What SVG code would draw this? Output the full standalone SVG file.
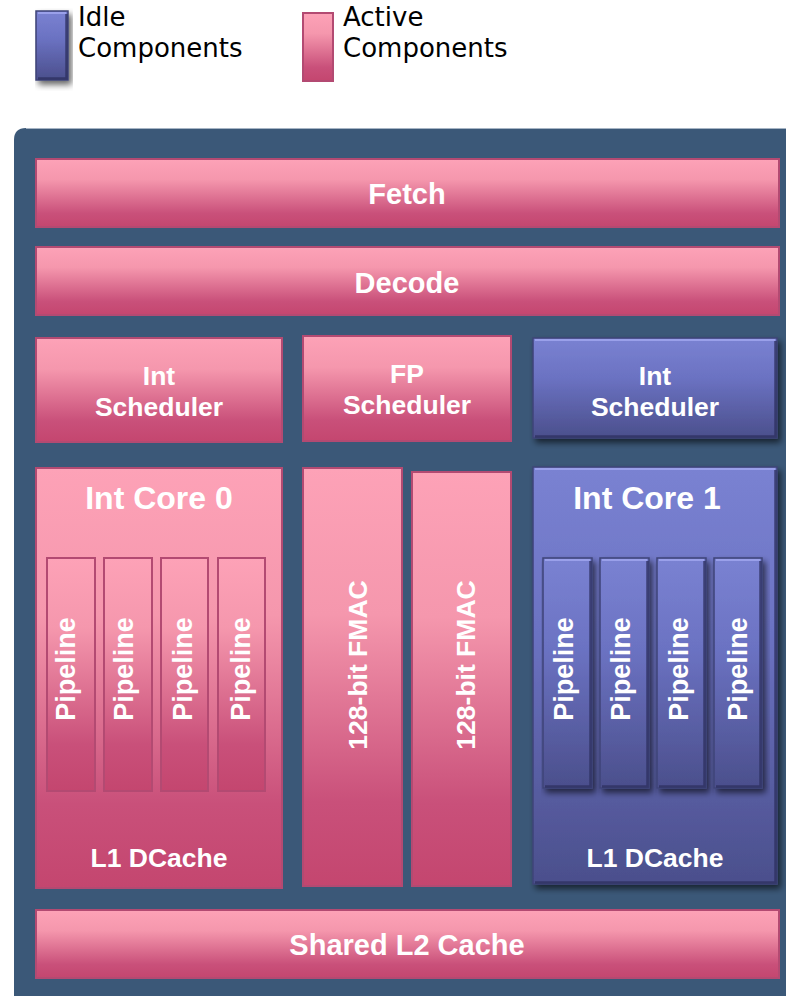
<svg xmlns="http://www.w3.org/2000/svg" width="786" height="996" viewBox="0 0 786 996">
<defs>
<linearGradient id="pink" x1="0" y1="0" x2="0" y2="1">
<stop offset="0" stop-color="#fda2b7"/>
<stop offset="0.3" stop-color="#f597ad"/>
<stop offset="0.8" stop-color="#c9507a"/>
<stop offset="1" stop-color="#c4466f"/>
</linearGradient>
<linearGradient id="pinkTall" x1="0" y1="0" x2="0" y2="1">
<stop offset="0" stop-color="#fda2b7"/>
<stop offset="0.35" stop-color="#f597ad"/>
<stop offset="0.8" stop-color="#c9507a"/>
<stop offset="1" stop-color="#c4466f"/>
</linearGradient>
<linearGradient id="blue" x1="0" y1="0" x2="0" y2="1">
<stop offset="0" stop-color="#7a82d2"/>
<stop offset="0.4" stop-color="#6b72c2"/>
<stop offset="1" stop-color="#4b4f8c"/>
</linearGradient>
<filter id="shadow" x="-10%" y="-10%" width="125%" height="125%">
<feGaussianBlur in="SourceAlpha" stdDeviation="3"/>
<feOffset dx="3" dy="4"/>
<feComponentTransfer><feFuncA type="linear" slope="0.6"/></feComponentTransfer>
<feMerge><feMergeNode/><feMergeNode in="SourceGraphic"/></feMerge>
</filter>
</defs>
<style>
.p{fill:url(#pink);stroke:#b34a72;stroke-width:2}
.pt{fill:url(#pinkTall);stroke:#b34a72;stroke-width:2}
.b{fill:url(#blue);stroke:#3f4378;stroke-width:1.5}
.bev{fill:none;stroke:#9aa0ea;stroke-width:2}
.dk{fill:none;stroke:#2e3160;stroke-width:2.5;stroke-opacity:0.8}
.t{font-family:"Liberation Sans",Arial,sans-serif;font-weight:bold;fill:#ffffff;text-anchor:middle}
.lg{font-family:"DejaVu Sans",Verdana,sans-serif;font-size:26px;fill:#000000}
</style>
<rect width="786" height="996" fill="#ffffff"/>
<g id="legend">
<g id="legend-idle">
<rect x="36" y="11" width="32" height="69" class="b" filter="url(#shadow)"/>
<path d="M38 13 L66 13" class="bev"/>
<path d="M66.5 14 L66.5 78.5 L38 78.5" class="dk"/>
<text class="lg" x="78" y="26">Idle</text>
<text class="lg" x="78" y="57">Components</text>
</g>
<g id="legend-active">
<rect x="303" y="13" width="30" height="68" class="p"/>
<text class="lg" x="343" y="26">Active</text>
<text class="lg" x="343" y="57">Components</text>
</g>
</g>
<path id="chip" d="M14 140 Q14 128 26 128 L786 128 L786 996 L14 996 Z" fill="#3b5878"/>
<line x1="26" y1="128.5" x2="786" y2="128.5" stroke="#a6b4c4" stroke-width="1"/>
<g id="fetch">
<rect x="36" y="159" width="743" height="68" class="p"/>
<text class="t" x="407" y="204" font-size="29">Fetch</text>
</g>
<g id="decode">
<rect x="36" y="247" width="743" height="68" class="p"/>
<text class="t" x="407" y="293" font-size="29">Decode</text>
</g>
<g id="int-scheduler-0">
<rect x="36" y="338" width="246" height="104" class="p"/>
<text class="t" x="159" y="385" font-size="26.5">Int</text>
<text class="t" x="159" y="416" font-size="26.5">Scheduler</text>
</g>
<g id="fp-scheduler">
<rect x="303" y="336" width="208" height="105" class="p"/>
<text class="t" x="407" y="383" font-size="26.5">FP</text>
<text class="t" x="407" y="414" font-size="26.5">Scheduler</text>
</g>
<g id="int-scheduler-1">
<rect x="533" y="338" width="244" height="100" class="b" filter="url(#shadow)"/>
<path d="M535 340 L775 340" class="bev"/>
<path d="M775.5 341 L775.5 436.5 L535 436.5" class="dk"/>
<text class="t" x="655" y="385" font-size="26.5">Int</text>
<text class="t" x="655" y="416" font-size="26.5">Scheduler</text>
</g>
<g id="int-core-0">
<rect x="36" y="468" width="246" height="420" class="pt"/>
<text class="t" x="159" y="509" font-size="32">Int Core 0</text>
<text class="t" x="159" y="867" font-size="26.5">L1 DCache</text>
</g>
<g id="pipelines-0">
<rect x="47" y="558" width="48" height="233" class="p"/>
<rect x="104" y="558" width="48" height="233" class="p"/>
<rect x="161" y="558" width="47" height="233" class="p"/>
<rect x="218" y="558" width="47" height="233" class="p"/>
<text class="t" font-size="27" transform="translate(75 669) rotate(-90)">Pipeline</text>
<text class="t" font-size="27" transform="translate(133 669) rotate(-90)">Pipeline</text>
<text class="t" font-size="27" transform="translate(192 669) rotate(-90)">Pipeline</text>
<text class="t" font-size="27" transform="translate(250 669) rotate(-90)">Pipeline</text>
</g>
<g id="fmac-0">
<rect x="303" y="468" width="99" height="418" class="pt"/>
<text class="t" font-size="26.5" transform="translate(367 665) rotate(-90)">128-bit FMAC</text>
</g>
<g id="fmac-1">
<rect x="412" y="472" width="99" height="414" class="pt"/>
<text class="t" font-size="26.5" transform="translate(475 665) rotate(-90)">128-bit FMAC</text>
</g>
<g id="int-core-1">
<rect x="533" y="467" width="244" height="417" class="b" filter="url(#shadow)"/>
<path d="M535 469 L775 469" class="bev"/>
<path d="M775.5 470 L775.5 882.5 L535 882.5" class="dk"/>
<text class="t" x="647" y="509" font-size="32">Int Core 1</text>
<text class="t" x="655" y="867" font-size="26.5">L1 DCache</text>
</g>
<g id="pipelines-1">
<rect x="543" y="558" width="49" height="230" class="b" filter="url(#shadow)"/>
<rect x="600" y="558" width="49" height="230" class="b" filter="url(#shadow)"/>
<rect x="657" y="558" width="49" height="230" class="b" filter="url(#shadow)"/>
<rect x="714" y="558" width="48" height="230" class="b" filter="url(#shadow)"/>
<path d="M545 560 L590 560 M602 560 L647 560 M659 560 L704 560 M716 560 L760 560" class="bev"/>
<path d="M590.5 561 L590.5 786.5 L545 786.5 M647.5 561 L647.5 786.5 L602 786.5 M704.5 561 L704.5 786.5 L659 786.5 M760.5 561 L760.5 786.5 L716 786.5" class="dk"/>
<text class="t" font-size="27" transform="translate(573 669) rotate(-90)">Pipeline</text>
<text class="t" font-size="27" transform="translate(630 669) rotate(-90)">Pipeline</text>
<text class="t" font-size="27" transform="translate(688 669) rotate(-90)">Pipeline</text>
<text class="t" font-size="27" transform="translate(747 669) rotate(-90)">Pipeline</text>
</g>
<g id="shared-l2">
<rect x="36" y="910" width="743" height="68" class="p"/>
<text class="t" x="407" y="955" font-size="29">Shared L2 Cache</text>
</g>
<g id="connectors"/>
</svg>
